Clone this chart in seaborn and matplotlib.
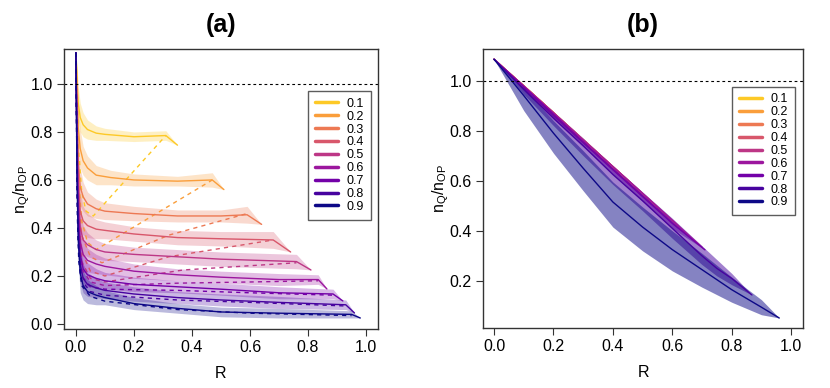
import matplotlib
matplotlib.use("Agg")
import matplotlib.pyplot as plt
import seaborn as sns
import pandas as pd
import numpy as np

# ---------------- data ----------------
LEVELS = ["0.1", "0.2", "0.3", "0.4", "0.5", "0.6", "0.7", "0.8", "0.9"]
COLORS = ["#FDC926", "#FA9E3B", "#ED7953", "#D8576B", "#BD3786",
          "#9C179E", "#7301A8", "#47039F", "#0D0887"]

# panel (a) solid curves
A_SOLID_R = [
    [0, 0.004, 0.008, 0.015, 0.025, 0.04, 0.07, 0.1, 0.2, 0.31, 0.35],
    [0, 0.004, 0.008, 0.015, 0.025, 0.04, 0.07, 0.12, 0.2, 0.35, 0.47, 0.51],
    [0, 0.004, 0.008, 0.015, 0.025, 0.04, 0.07, 0.1, 0.2, 0.35, 0.5, 0.59, 0.64],
    [0, 0.004, 0.008, 0.015, 0.025, 0.04, 0.07, 0.1, 0.2, 0.35, 0.5, 0.68, 0.74],
    [0, 0.004, 0.008, 0.015, 0.025, 0.04, 0.07, 0.1, 0.2, 0.35, 0.5, 0.76, 0.81],
    [0, 0.004, 0.008, 0.015, 0.025, 0.04, 0.07, 0.1, 0.2, 0.35, 0.5, 0.7, 0.835, 0.865],
    [0, 0.004, 0.008, 0.015, 0.025, 0.04, 0.07, 0.1, 0.2, 0.35, 0.5, 0.7, 0.886, 0.92],
    [0, 0.004, 0.008, 0.015, 0.025, 0.04, 0.07, 0.1, 0.2, 0.35, 0.5, 0.7, 0.93, 0.96],
    [0, 0.004, 0.008, 0.015, 0.025, 0.04, 0.07, 0.1, 0.2, 0.35, 0.5, 0.7, 0.95, 0.98],
]
A_SOLID_Y = [
    [1.13, 1.02, 0.92, 0.86, 0.83, 0.81, 0.795, 0.79, 0.78, 0.785, 0.745],
    [1.13, 0.98, 0.82, 0.73, 0.68, 0.65, 0.62, 0.61, 0.60, 0.595, 0.60, 0.56],
    [1.13, 0.90, 0.68, 0.57, 0.53, 0.50, 0.48, 0.47, 0.46, 0.45, 0.45, 0.455, 0.415],
    [1.13, 0.85, 0.60, 0.47, 0.43, 0.41, 0.395, 0.39, 0.375, 0.36, 0.355, 0.35, 0.30],
    [1.13, 0.80, 0.55, 0.40, 0.35, 0.33, 0.31, 0.30, 0.29, 0.28, 0.27, 0.26, 0.225],
    [1.13, 0.75, 0.50, 0.34, 0.29, 0.265, 0.25, 0.24, 0.22, 0.205, 0.195, 0.185, 0.185, 0.146],
    [1.13, 0.70, 0.45, 0.29, 0.23, 0.205, 0.19, 0.18, 0.165, 0.155, 0.145, 0.13, 0.125, 0.096],
    [1.13, 0.65, 0.40, 0.25, 0.19, 0.165, 0.15, 0.14, 0.125, 0.11, 0.10, 0.09, 0.08, 0.046],
    [1.13, 0.60, 0.35, 0.21, 0.16, 0.135, 0.12, 0.11, 0.085, 0.065, 0.05, 0.045, 0.04, 0.025],
]
# half-width of the shaded band around each solid curve
A_BAND_HW = [
    [0.0, 0.06, 0.07, 0.06, 0.05, 0.04, 0.03, 0.025, 0.02, 0.02, 0.0],
    [0.0, 0.08, 0.09, 0.08, 0.06, 0.05, 0.04, 0.03, 0.025, 0.02, 0.03, 0.0],
    [0.0, 0.10, 0.10, 0.08, 0.06, 0.05, 0.04, 0.035, 0.03, 0.025, 0.025, 0.035, 0.0],
    [0.0, 0.10, 0.10, 0.08, 0.06, 0.05, 0.04, 0.035, 0.03, 0.03, 0.03, 0.035, 0.0],
    [0.0, 0.10, 0.10, 0.08, 0.06, 0.05, 0.04, 0.035, 0.03, 0.03, 0.03, 0.03, 0.0],
    [0.0, 0.10, 0.10, 0.08, 0.06, 0.05, 0.04, 0.035, 0.03, 0.025, 0.025, 0.025, 0.02, 0.0],
    [0.0, 0.10, 0.10, 0.08, 0.06, 0.05, 0.04, 0.035, 0.03, 0.025, 0.025, 0.025, 0.02, 0.0],
    [0.0, 0.10, 0.10, 0.08, 0.06, 0.05, 0.04, 0.035, 0.03, 0.025, 0.025, 0.025, 0.02, 0.0],
    [0.0, 0.10, 0.10, 0.08, 0.06, 0.05, 0.04, 0.03, 0.025, 0.02, 0.02, 0.02, 0.015, 0.0],
]
# panel (a) dashed curves
A_DASH_R = [
    [0, 0.005, 0.01, 0.02, 0.035, 0.06, 0.31],
    [0, 0.005, 0.01, 0.02, 0.04, 0.07, 0.47],
    [0, 0.005, 0.01, 0.02, 0.05, 0.09, 0.32, 0.59],
    [0, 0.005, 0.01, 0.02, 0.05, 0.10, 0.32, 0.68],
    [0, 0.005, 0.01, 0.02, 0.05, 0.10, 0.37, 0.76],
    [0, 0.005, 0.01, 0.02, 0.05, 0.10, 0.35, 0.6, 0.835],
    [0, 0.005, 0.01, 0.02, 0.05, 0.10, 0.35, 0.6, 0.886],
    [0, 0.005, 0.01, 0.02, 0.05, 0.10, 0.35, 0.6, 0.93],
    [0, 0.005, 0.01, 0.02, 0.05, 0.10, 0.35, 0.6, 0.95],
]
A_DASH_Y = [
    [1.13, 0.90, 0.72, 0.55, 0.47, 0.45, 0.785],
    [1.13, 0.80, 0.60, 0.43, 0.34, 0.31, 0.60],
    [1.13, 0.75, 0.52, 0.37, 0.28, 0.255, 0.37, 0.46],
    [1.13, 0.70, 0.45, 0.30, 0.22, 0.20, 0.28, 0.35],
    [1.13, 0.65, 0.40, 0.26, 0.19, 0.175, 0.225, 0.255],
    [1.13, 0.60, 0.36, 0.23, 0.175, 0.16, 0.17, 0.175, 0.18],
    [1.13, 0.55, 0.32, 0.20, 0.155, 0.145, 0.14, 0.13, 0.12],
    [1.13, 0.50, 0.29, 0.18, 0.135, 0.12, 0.10, 0.09, 0.075],
    [1.13, 0.45, 0.26, 0.16, 0.115, 0.095, 0.06, 0.045, 0.035],
]

# panel (b) curves
B_R = [
    [0, 0.1, 0.2, 0.25],
    [0, 0.1, 0.2, 0.35],
    [0, 0.1, 0.2, 0.3, 0.45],
    [0, 0.1, 0.2, 0.3, 0.4, 0.55],
    [0, 0.1, 0.2, 0.3, 0.4, 0.5, 0.62],
    [0, 0.1, 0.2, 0.3, 0.4, 0.5, 0.6, 0.70],
    [0, 0.1, 0.2, 0.3, 0.4, 0.5, 0.6, 0.71],
    [0, 0.1, 0.2, 0.3, 0.4, 0.5, 0.6, 0.7, 0.75, 0.8, 0.868],
    [0, 0.1, 0.2, 0.3, 0.4, 0.5, 0.6, 0.7, 0.8, 0.9, 0.96],
]
B_Y = [
    [1.085, 0.978, 0.871, 0.817],
    [1.085, 0.978, 0.871, 0.710],
    [1.085, 0.978, 0.871, 0.763, 0.603],
    [1.085, 0.978, 0.871, 0.763, 0.656, 0.495],
    [1.085, 0.978, 0.871, 0.763, 0.656, 0.549, 0.420],
    [1.085, 0.978, 0.871, 0.763, 0.656, 0.549, 0.442, 0.335],
    [1.085, 0.975, 0.865, 0.755, 0.645, 0.537, 0.430, 0.324],
    [1.085, 0.965, 0.850, 0.740, 0.625, 0.520, 0.410, 0.300, 0.250, 0.210, 0.144],
    [1.085, 0.940, 0.790, 0.650, 0.515, 0.415, 0.325, 0.245, 0.165, 0.095, 0.052],
]
B_LO = [
    [0, 0.01, 0.015, 0],
    [0, 0.01, 0.015, 0],
    [0, 0.01, 0.015, 0.015, 0],
    [0, 0.01, 0.015, 0.015, 0.015, 0],
    [0, 0.01, 0.015, 0.015, 0.015, 0.015, 0],
    [0, 0.01, 0.015, 0.015, 0.015, 0.015, 0.015, 0],
    [0, 0.015, 0.02, 0.02, 0.02, 0.02, 0.02, 0],
    [0, 0.02, 0.03, 0.04, 0.04, 0.04, 0.04, 0.035, 0.03, 0.025, 0],
    [0, 0.06, 0.08, 0.09, 0.10, 0.095, 0.085, 0.07, 0.05, 0.03, 0],
]
B_HI = [
    [0, 0.005, 0.005, 0],
    [0, 0.005, 0.005, 0],
    [0, 0.005, 0.005, 0.005, 0],
    [0, 0.005, 0.005, 0.005, 0.005, 0],
    [0, 0.005, 0.005, 0.005, 0.005, 0.005, 0],
    [0, 0.005, 0.005, 0.005, 0.005, 0.005, 0.005, 0],
    [0, 0.008, 0.01, 0.01, 0.01, 0.01, 0.01, 0],
    [0, 0.015, 0.025, 0.03, 0.035, 0.035, 0.04, 0.04, 0.035, 0.02, 0],
    [0, 0.03, 0.05, 0.07, 0.08, 0.08, 0.075, 0.065, 0.05, 0.03, 0],
]
TICKS_X = [0.0, 0.2, 0.4, 0.6, 0.8, 1.0]
TICKS_YA = [0.0, 0.2, 0.4, 0.6, 0.8, 1.0]
TICKS_YB = [0.2, 0.4, 0.6, 0.8, 1.0]

# ---------------- style ----------------
sns.set_theme(style="white")
plt.rcParams['font.family'] = ['Liberation Sans Narrow', 'Liberation Sans', 'DejaVu Sans']
plt.rcParams['mathtext.fontset'] = 'custom'
plt.rcParams['mathtext.rm'] = 'Liberation Sans'
plt.rcParams['mathtext.it'] = 'Liberation Sans'
plt.rcParams['text.color'] = 'black'
plt.rcParams['axes.labelcolor'] = 'black'

fig = plt.figure(figsize=(8.3, 3.88), dpi=100)
axA = fig.add_axes([0.0771, 0.152, 0.3783, 0.722])
axB = fig.add_axes([0.582, 0.1546, 0.3855, 0.7204])


def style_axes(ax, yt):
    for s in ax.spines.values():
        s.set_visible(True)
        s.set_color("#333333")
        s.set_linewidth(1.0)
    ax.set_xticks(TICKS_X)
    ax.set_xticklabels([f"{t:.1f}" for t in TICKS_X])
    ax.set_yticks(yt)
    ax.set_yticklabels([f"{t:.1f}" for t in yt])
    ax.tick_params(axis="both", direction="out", length=5, width=0.8,
                   colors="#333333", labelcolor="black", labelsize=11.5,
                   bottom=True, left=True, pad=3)
    ax.set_xlabel("R", fontsize=11.5, labelpad=8)
    ax.set_ylabel(r"$\mathregular{n_Q/n_{OP}}$", fontsize=11.5, labelpad=-1)
    ax.grid(False)


# ---- panel (a) ----
for i, lev in enumerate(LEVELS):
    r = np.array(A_SOLID_R[i]); y = np.array(A_SOLID_Y[i]); hw = np.array(A_BAND_HW[i])
    axA.fill_between(r, y - hw, y + hw, color=COLORS[i], alpha=0.28, lw=0)
for i, lev in enumerate(LEVELS):
    dfs = pd.DataFrame({"R": A_SOLID_R[i], "y": A_SOLID_Y[i]})
    sns.lineplot(data=dfs, x="R", y="y", ax=axA, color=COLORS[i], lw=1.0,
                 sort=False, estimator=None, label=lev)
    dfd = pd.DataFrame({"R": A_DASH_R[i], "y": A_DASH_Y[i]})
    sns.lineplot(data=dfd, x="R", y="y", ax=axA, color=COLORS[i], lw=1.0,
                 sort=False, estimator=None, dashes=False, linestyle=(0, (3, 3)))
axA.axhline(1.0, color="black", lw=0.8, linestyle=(0, (2.5, 2.5)))
axA.set_xlim(-0.041, 1.041)
axA.set_ylim(-0.021, 1.146)
style_axes(axA, TICKS_YA)
axA.set_title("(a)", fontsize=18, fontweight="bold", pad=12)

# ---- panel (b) ----
for i, lev in enumerate(LEVELS):
    r = np.array(B_R[i]); y = np.array(B_Y[i])
    axB.fill_between(r, y - np.array(B_LO[i]), y + np.array(B_HI[i]),
                     color=COLORS[i], alpha=0.5, lw=0)
    dfb = pd.DataFrame({"R": B_R[i], "y": B_Y[i]})
    sns.lineplot(data=dfb, x="R", y="y", ax=axB, color=COLORS[i], lw=1.0,
                 sort=False, estimator=None, label=lev)
axB.axhline(1.0, color="black", lw=0.8, linestyle=(0, (2.5, 2.5)))
axB.set_xlim(-0.037, 1.04)
axB.set_ylim(0.012, 1.128)
style_axes(axB, TICKS_YB)
axB.set_title("(b)", fontsize=18, fontweight="bold", pad=12)

# legends
for ax, anchor in [(axA, (0.978, 0.85)), (axB, (0.975, 0.864))]:
    handles, labels = ax.get_legend_handles_labels()
    leg = ax.legend(handles[:9], labels[:9], loc="upper right", bbox_to_anchor=anchor,
                    borderaxespad=0, fontsize=9, frameon=True, fancybox=False,
                    handlelength=1.85, handletextpad=0.7, labelspacing=0.07,
                    borderpad=0.55)
    leg.get_frame().set_edgecolor("#333333")
    leg.get_frame().set_linewidth(1.0)
    for h in leg.get_lines():
        h.set_linewidth(2.5)
        h.set_linestyle("-")

fig.savefig("out.png", dpi=100)
